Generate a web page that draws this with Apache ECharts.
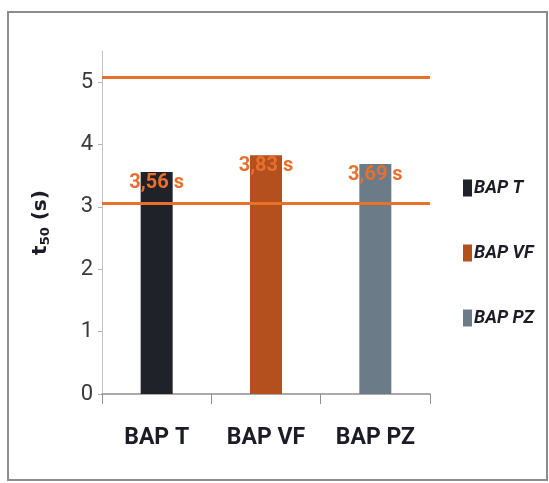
<!DOCTYPE html>
<html>
<head>
<meta charset="utf-8">
<script src="https://cdn.jsdelivr.net/npm/echarts@6/dist/echarts.min.js"></script>
<style>
  html, body { margin: 0; padding: 0; background: #fff; }
  #chart { width: 549px; height: 483px; }
</style>
</head>
<body>
<div id="chart"></div>
<script>
// Mixing samples and their t50 times (seconds)
const categories = ['BAP T', 'BAP VF', 'BAP PZ'];
const values = [3.56, 3.83, 3.69];
const barColors = ['#1f2329', '#b3501e', '#6c7b88'];
// Reference band limits drawn as horizontal lines
const limits = [5.08, 3.06];
const yTicks = [0, 1, 2, 3, 4, 5];

const narrow = 'Roboto, "Liberation Sans", sans-serif';

const series = categories.map((name, i) => ({
  name: name,
  type: 'bar',
  stack: 'one',
  barWidth: 32,
  data: categories.map((c, j) => (j === i ? values[i] : '-')),
  itemStyle: { color: barColors[i] },
  label: {
    show: true,
    position: 'insideTop',
    distance: 1,
    color: '#e8702c',
    fontFamily: narrow,
    fontWeight: 'bold',
    fontSize: 20,
    formatter: p => p.value.toFixed(2).replace('.', ',') + ' s'
  },
  z: 2
}));

series.push({
  name: 'limits',
  type: 'line',
  data: [],
  z: 5,
  markLine: {
    silent: true,
    symbol: 'none',
    label: { show: false },
    lineStyle: { color: '#ea7128', width: 3, type: 'solid' },
    data: limits.map(v => ({ yAxis: v }))
  }
});

const chart = echarts.init(document.getElementById('chart'));
chart.setOption({
  animation: false,
  backgroundColor: '#fff',
  graphic: [{
    type: 'rect',
    shape: { x: 8, y: 12, width: 539, height: 468 },
    style: { fill: 'none', stroke: '#8c8c8c', lineWidth: 2 },
    silent: true
  }],
  grid: { left: 102, right: 119, top: 51, bottom: 89 },
  legend: {
    orient: 'vertical',
    left: 458,
    top: 174,
    itemGap: 47,
    itemWidth: 9,
    itemHeight: 17,
    icon: 'rect',
    data: categories,
    textStyle: {
      fontFamily: narrow,
      fontStyle: 'italic',
      fontWeight: 'bold',
      fontSize: 18,
      color: '#1b1c26',
      padding: [0, 0, 0, -3]
    }
  },
  xAxis: {
    type: 'category',
    data: categories,
    axisLine: { lineStyle: { color: '#8e8e8e', width: 1.5 } },
    axisTick: { show: true, length: 10, lineStyle: { color: '#8e8e8e' } },
    axisLabel: {
      margin: 33,
      fontFamily: narrow,
      fontWeight: 'bold',
      fontSize: 23,
      color: '#1b1c26'
    }
  },
  yAxis: {
    type: 'value',
    min: 0,
    max: 5.5,
    interval: 1,
    name: '{t|t}{s|50}{t| (s)}',
    nameLocation: 'middle',
    nameGap: 50,
    nameRotate: 90,
    nameTextStyle: {
      rich: {
        t: { fontFamily: '"DejaVu Sans", sans-serif', fontWeight: 'bold', fontSize: 20, color: '#1b1c26' },
        s: { fontFamily: '"DejaVu Sans", sans-serif', fontWeight: 'bold', fontSize: 13, color: '#1b1c26', verticalAlign: 'bottom', padding: [9, 0, 0, 0] }
      }
    },
    splitLine: { show: false },
    axisLine: { show: true, lineStyle: { color: '#c4c4c4', width: 1 } },
    axisTick: { show: true, length: 4, lineStyle: { color: '#b0b0b0' } },
    axisLabel: {
      showMaxLabel: false,
      margin: 9,
      fontFamily: narrow,
      fontSize: 22,
      color: '#3a3a3a',
      formatter: v => (yTicks.includes(v) ? String(v) : '')
    }
  },
  series: series
});
</script>
</body>
</html>
